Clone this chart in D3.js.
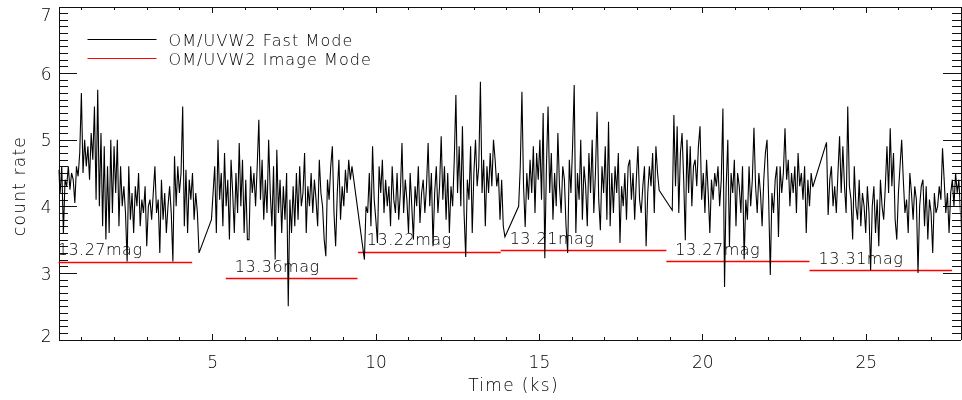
<!DOCTYPE html>
<html>
<head>
<meta charset="utf-8">
<script src="https://cdn.jsdelivr.net/npm/d3@7"></script>
<style>
  body { margin: 0; background: #fff; }
  #chart { will-change: transform; width: 962px; height: 400px; }
  svg { display: block; font-family: "DejaVu Sans", sans-serif; font-weight: 200; }
  .axis path, .axis line { stroke: #111; shape-rendering: crispEdges; }
  .axis text { fill: #000; font-size: 17px; font-family: "DejaVu Sans", sans-serif; }
  .label { fill: #000; font-size: 16px; }
</style>
</head>
<body>
<div id="chart"></div>
<script>
// OM/UVW2 fast mode light curve, 50 s bins, one array per continuous stretch
const binWidth = 0.05; // ks
const fastStarts = [0.30, 4.98, 9.66, 14.38, 19.08, 23.80];

const fastSeg1 = [4.55, 4.2, 4.6, 3.6, 4.4, 4.3, 4.6, 4.25, 4.5, 4.4,
  4.05, 4.6, 4.45, 4.8, 5.7, 4.5, 5.0, 4.6, 4.9, 4.4,
  5.1, 4.7, 5.5, 4.1, 5.75, 4.0, 5.1, 3.7, 4.9, 3.5,
  4.6, 3.6, 5.0, 3.9, 4.9, 4.2, 5.0, 3.7, 4.6, 4.0,
  4.3, 3.9, 3.17, 4.6, 3.8, 4.2, 3.6, 4.3, 4.0, 4.5,
  3.7, 4.1, 3.9, 4.3, 3.4, 4.0, 4.1, 3.8, 4.2, 4.6,
  3.9, 4.1, 3.3, 4.4, 3.8, 4.2, 3.6, 4.0, 4.3, 3.9,
  3.17, 4.75, 4.0, 4.6, 4.2, 4.5, 5.5, 3.7, 4.55, 3.6,
  4.4, 4.1, 4.5, 3.8, 4.2, 3.9, 3.3];
const fastSeg2 = [3.8, 4.2, 4.6, 3.6, 5.0, 4.1, 4.5, 3.7, 4.8, 4.0,
  4.4, 3.5, 4.7, 4.2, 3.6, 4.5, 3.9, 4.95, 4.0, 4.7,
  3.6, 4.4, 3.5, 3.5, 4.6, 4.2, 4.5, 4.0, 4.6, 5.3,
  4.1, 4.7, 3.8, 4.4, 3.9, 5.0, 4.2, 3.7, 4.6, 3.2,
  4.85, 3.9, 4.4, 3.6, 4.3, 3.8, 4.5, 2.5, 4.1, 3.6,
  4.3, 3.7, 4.5, 3.8, 4.6, 4.0, 4.2, 4.8, 3.6, 4.3,
  4.0, 4.5, 3.9, 4.4, 4.1, 3.7, 4.7, 4.2, 4.0, 3.5,
  3.25, 4.4, 4.1, 4.6, 4.9, 3.9, 3.4, 4.2, 4.7, 3.8,
  4.3, 4.0, 4.55, 4.2, 4.7, 4.4, 4.6];
const fastSeg3 = [3.2, 4.0, 3.9, 4.5, 3.7, 4.9, 4.1, 3.8, 3.45, 4.6,
  4.2, 4.7, 3.9, 4.4, 4.0, 4.3, 3.7, 4.6, 4.1, 3.9,
  4.5, 3.8, 4.2, 4.95, 3.9, 4.4, 4.1, 3.6, 4.5, 4.0,
  3.5, 4.3, 4.0, 4.6, 3.75, 4.2, 4.4, 3.9, 4.3, 4.95,
  4.0, 4.5, 3.4, 4.2, 4.6, 3.9, 4.3, 5.05, 4.1, 4.6,
  3.8, 4.5, 3.6, 4.3, 4.0, 4.7, 5.67, 4.2, 4.9, 4.0,
  5.2, 3.9, 3.24, 4.4, 4.1, 4.9, 3.6, 4.5, 5.0, 4.3,
  4.6, 5.87, 4.2, 4.7, 3.7, 4.6, 4.2, 4.8, 4.3, 5.0,
  4.7, 4.3, 4.5, 3.8, 4.4, 3.7, 3.54];
const fastSeg4 = [4.0, 4.6, 5.72, 4.3, 3.69, 4.5, 4.1, 4.7, 4.2, 4.9,
  3.9, 4.8, 4.4, 5.0, 4.1, 5.4, 3.22, 4.6, 5.5, 4.2,
  4.8, 3.8, 4.5, 4.0, 5.1, 4.3, 3.9, 4.6, 4.4, 3.7,
  3.3, 4.7, 4.2, 4.9, 5.82, 3.6, 4.5, 4.1, 5.0, 3.8,
  4.6, 4.3, 3.7, 4.8, 4.2, 5.0, 3.9, 4.5, 5.42, 4.1,
  3.64, 4.6, 4.2, 4.9, 3.8, 5.27, 3.7, 4.5, 3.9, 4.6,
  4.2, 4.8, 3.45, 4.3, 4.0, 4.5, 3.8, 4.6, 4.7, 4.1,
  4.5, 3.8, 4.4, 4.9, 4.1, 3.9, 4.3, 4.6, 3.4, 4.2,
  4.6, 4.3, 4.8, 3.9, 4.9, 4.5, 4.24];
const fastSeg5 = [3.94, 5.37, 4.3, 5.2, 3.9, 4.8, 5.1, 4.4, 3.49, 5.0,
  4.2, 4.9, 4.0, 4.6, 4.7, 4.3, 4.9, 5.2, 4.1, 4.5,
  3.9, 4.7, 4.2, 3.6, 4.4, 4.1, 4.5, 4.3, 4.6, 4.0,
  4.4, 5.47, 2.79, 4.3, 5.0, 3.4, 4.5, 4.2, 4.7, 3.7,
  4.5, 4.3, 3.9, 4.6, 3.2, 4.1, 3.8, 4.6, 4.0, 4.4,
  5.18, 4.3, 3.9, 4.5, 4.2, 3.7, 4.4, 4.8, 5.0, 4.1,
  2.97, 4.2, 3.9, 4.4, 4.6, 3.54, 4.6, 4.2, 4.5, 5.17,
  4.4, 4.7, 4.0, 4.5, 4.2, 4.6, 3.9, 4.8, 4.3, 4.5,
  4.1, 4.6, 3.6, 4.4, 4.0, 4.5, 4.29];
const fastSeg6 = [4.96, 3.87, 4.4, 4.6, 4.0, 4.3, 3.9, 4.5, 5.05, 4.2,
  4.9, 4.3, 3.9, 5.5, 4.3, 4.1, 3.5, 4.6, 4.0, 3.8,
  4.4, 3.7, 4.2, 4.0, 3.6, 4.3, 3.9, 3.04, 4.0, 4.3,
  3.6, 4.1, 3.4, 4.4, 4.0, 3.8, 4.3, 4.9, 4.2, 5.17,
  4.3, 4.8, 3.8, 3.5, 4.2, 4.6, 5.0, 4.4, 3.9, 4.1,
  3.6, 4.5, 4.2, 3.8, 4.3, 4.1, 3.0, 4.0, 4.3, 4.4,
  3.7, 4.3, 3.5, 4.1, 3.9, 3.3, 4.2, 3.9, 4.0, 4.3,
  4.1, 4.87, 4.4, 3.9, 4.2, 3.6, 4.2, 4.4, 4.0, 4.5,
  4.2, 4.4, 3.9, 3.5];
const fastSegments = [fastSeg1, fastSeg2, fastSeg3, fastSeg4, fastSeg5, fastSeg6];

// OM/UVW2 image mode exposures (mean count rate over each exposure)
const imageStart = [0.0, 5.42, 9.46, 13.83, 18.90, 23.28];
const imageEnd = [4.39, 9.45, 13.83, 18.90, 23.28, 27.64];
const imageRate = [3.16, 2.91, 3.31, 3.33, 3.17, 3.03];
const imageMag = ["13.27mag", "13.36mag", "13.22mag", "13.21mag", "13.27mag", "13.31mag"];

const xTicks = [5, 10, 15, 20, 25];
const yTicks = [2, 3, 4, 5, 6, 7];
const legendLabels = ["OM/UVW2 Fast Mode", "OM/UVW2 Image Mode"];

class LightCurve {
  constructor(_config) {
    this.config = {
      parentElement: _config.parentElement,
      containerWidth: _config.containerWidth || 962,
      containerHeight: _config.containerHeight || 400,
      margin: _config.margin || { top: 6.5, right: 1.5, bottom: 60.5, left: 58.5 },
      xDomain: _config.xDomain || [0.3, 27.9],
      yDomain: _config.yDomain || [2, 7],
    };
    this.initVis();
  }

  initVis() {
    let vis = this;

    vis.width = vis.config.containerWidth - vis.config.margin.left - vis.config.margin.right;
    vis.height = vis.config.containerHeight - vis.config.margin.top - vis.config.margin.bottom;

    vis.xScale = d3.scaleLinear().domain(vis.config.xDomain).range([0, vis.width]);
    vis.yScale = d3.scaleLinear().domain(vis.config.yDomain).range([vis.height, 0]);

    vis.svg = d3
      .select(vis.config.parentElement)
      .append("svg")
      .attr("width", vis.config.containerWidth)
      .attr("height", vis.config.containerHeight);

    vis.chart = vis.svg
      .append("g")
      .attr("transform", `translate(${vis.config.margin.left},${vis.config.margin.top})`);

    vis.svg
      .append("clipPath")
      .attr("id", "plot-clip")
      .append("rect")
      .attr("width", vis.width)
      .attr("height", vis.height);

    // IDL style frame: ticks on all four sides pointing inward, minor ticks every 1 ks / 0.1
    const xMinor = d3.range(1, 28).filter((d) => d % 5 !== 0);
    const yMinor = d3.range(21, 70).filter((d) => d % 10 !== 0).map((d) => d / 10);

    const addAxis = (axis, transform) =>
      vis.chart.append("g").attr("class", "axis").attr("transform", transform).call(axis);

    addAxis(d3.axisBottom(vis.xScale).tickValues(xMinor).tickSize(-3).tickSizeOuter(0).tickFormat(""), `translate(0,${vis.height})`);
    addAxis(d3.axisTop(vis.xScale).tickValues(xMinor).tickSize(-3).tickSizeOuter(0).tickFormat(""), "translate(0,0)");
    addAxis(d3.axisTop(vis.xScale).tickValues(xTicks).tickSize(-6).tickSizeOuter(0).tickFormat(""), "translate(0,0)");
    vis.xAxisG = addAxis(
      d3.axisBottom(vis.xScale).tickValues(xTicks).tickSize(-6).tickSizeOuter(0).tickPadding(16),
      `translate(0,${vis.height})`
    );

    addAxis(d3.axisLeft(vis.yScale).tickValues(yMinor).tickSize(-9).tickSizeOuter(0).tickFormat(""), "translate(0,0)");
    addAxis(d3.axisRight(vis.yScale).tickValues(yMinor).tickSize(-9).tickSizeOuter(0).tickFormat(""), `translate(${vis.width},0)`);
    addAxis(d3.axisRight(vis.yScale).tickValues(yTicks).tickSize(-18).tickSizeOuter(0).tickFormat(""), `translate(${vis.width},0)`);
    vis.yAxisG = addAxis(
      d3.axisLeft(vis.yScale).tickValues(yTicks).tickSize(-18).tickSizeOuter(0).tickPadding(7).tickFormat(d3.format("d")),
      "translate(0,0)"
    );

    // Keep the end labels inside the frame, as the original plot does
    vis.yAxisG
      .selectAll(".tick text")
      .attr("dy", (d) => (d === 7 ? "0.85em" : d === 2 ? "0.1em" : "0.36em"));

    // Axis titles
    vis.chart
      .append("text")
      .attr("class", "label")
      .attr("x", vis.width / 2 + 4)
      .attr("y", vis.height + 51)
      .attr("text-anchor", "middle")
      .style("font-size", "17px")
      .style("letter-spacing", "1.3px")
      .text("Time (ks)");

    vis.svg
      .append("text")
      .attr("class", "label")
      .attr("transform", "translate(25,186) rotate(-90)")
      .attr("text-anchor", "middle")
      .style("font-size", "17px")
      .style("letter-spacing", "1.2px")
      .text("count rate");

    vis.imageG = vis.chart.append("g");
    vis.lineElement = vis.chart
      .append("path")
      .attr("clip-path", "url(#plot-clip)")
      .attr("fill", "none")
      .attr("stroke", "#000")
      .attr("stroke-width", 1.1);

    vis.legendG = vis.chart.append("g");

    vis.updateVis();
  }

  updateVis() {
    let vis = this;

    // Flatten the fast mode stretches into one series; the gaps are bridged by the line
    vis.fastData = [];
    fastSegments.forEach((seg, s) => {
      seg.forEach((v, i) => vis.fastData.push({ t: fastStarts[s] + i * binWidth, rate: v }));
    });

    vis.imageData = imageRate.map((r, i) => ({
      start: imageStart[i],
      end: imageEnd[i],
      rate: r,
      mag: imageMag[i],
    }));

    vis.lineGenerator = d3
      .line()
      .x((d) => vis.xScale(d.t))
      .y((d) => vis.yScale(d.rate));

    vis.renderVis();
  }

  renderVis() {
    let vis = this;

    // Image mode levels with their magnitudes
    vis.imageG
      .selectAll(".img-line")
      .data(vis.imageData)
      .join("line")
      .attr("class", "img-line")
      .attr("clip-path", "url(#plot-clip)")
      .attr("x1", (d) => vis.xScale(d.start))
      .attr("x2", (d) => vis.xScale(d.end))
      .attr("y1", (d) => Math.round(vis.yScale(d.rate)))
      .attr("y2", (d) => Math.round(vis.yScale(d.rate)))
      .attr("stroke", "#ff0000")
      .attr("stroke-width", 1.6);

    vis.imageG
      .selectAll(".img-label")
      .data(vis.imageData)
      .join("text")
      .attr("class", "label img-label")
      .attr("x", (d) => vis.xScale(d.start) + 9)
      .attr("y", (d) => vis.yScale(d.rate) - 7)
      .style("letter-spacing", "0.5px")
      .text((d) => d.mag);

    vis.lineElement.attr("d", vis.lineGenerator(vis.fastData));

    // Legend
    const legendColors = ["#000", "#ff0000"];
    const rows = vis.legendG
      .selectAll(".legend-row")
      .data(legendLabels)
      .join("g")
      .attr("class", "legend-row")
      .attr("transform", (d, i) => `translate(0,${33 + i * 19})`);

    rows
      .append("line")
      .attr("x1", 29)
      .attr("x2", 98)
      .attr("stroke", (d, i) => legendColors[i])
      .attr("stroke-width", 1);

    rows
      .append("text")
      .attr("class", "label")
      .attr("x", 110)
      .attr("y", 6)
      .style("letter-spacing", "1.1px")
      .text((d) => d);
  }
}

const lightCurve = new LightCurve({ parentElement: "#chart" });
</script>
</body>
</html>
